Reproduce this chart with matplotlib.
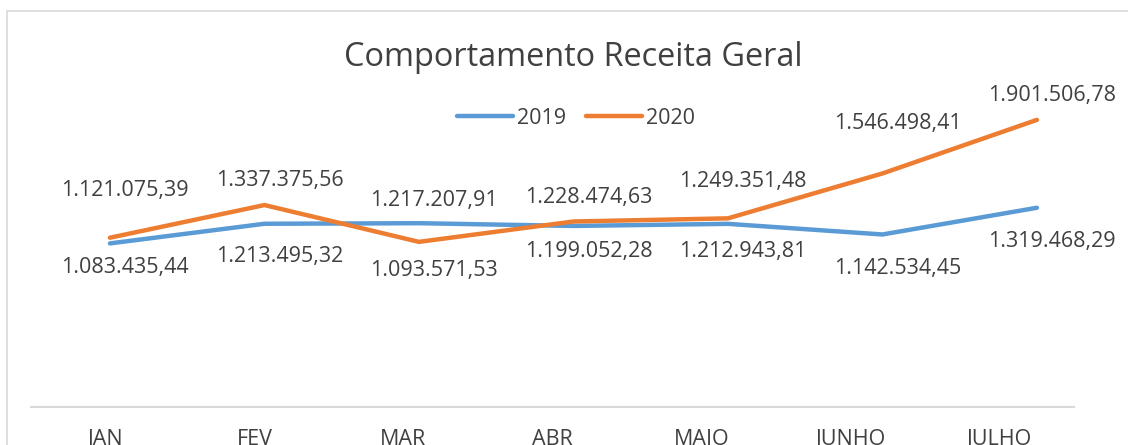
import matplotlib
matplotlib.use("Agg")
import matplotlib.pyplot as plt
from matplotlib.patches import Rectangle

# DATA
meses = ["JAN", "FEV", "MAR", "ABR", "MAIO", "JUNHO", "JULHO"]
receita_2019 = [1083435.44, 1213495.32, 1217207.91, 1199052.28, 1212943.81, 1142534.45, 1319468.29]
receita_2020 = [1121075.39, 1337375.56, 1093571.53, 1228474.63, 1249351.48, 1546498.41, 1901506.78]

# label offsets (pixels, up is positive) - labels were hand placed in the original
dy_2019 = [-24, -33, 23, -26, -28, -34, -34]
dy_2020 = [47, 25, -29, 24, 37, 50, 24]

azul = "#5B9BD5"
laranja = "#ED7D31"
texto = "#404040"
fonte = "Open Sans"
tam = 15.5

W, H = 1128, 445
fig = plt.figure(figsize=(W / 100, H / 100), dpi=100)

# chart border (cut off at right/bottom like the screenshot)
fig.patches.append(Rectangle((7 / W, -0.2), 1.2, 1.2 - 11 / H,
                             transform=fig.transFigure, fill=False,
                             edgecolor="#D9D9D9", lw=1.2, clip_on=False))

ax = fig.add_axes([31 / W, (H - 407) / H, (1074 - 31) / W, (407 - 105) / H])
ax.set_xlim(-0.5, 6.5)
ax.set_ylim(0, 2000000)
ax.set_xticks(range(len(meses)))
ax.set_xticklabels(meses, fontsize=tam, color=texto, family=fonte)
ax.tick_params(axis="x", length=0, pad=16)
ax.set_yticks([])
for s in ["top", "left", "right"]:
    ax.spines[s].set_visible(False)
ax.spines["bottom"].set_color("#D9D9D9")
ax.spines["bottom"].set_linewidth(1.5)
ax.patch.set_alpha(0)

# lines on their own x scale
ax2 = ax.twiny()
ax2.set_xlim(-0.511, 6.24)
ax2.set_xticks([])
for s in ax2.spines.values():
    s.set_visible(False)

x = range(len(meses))
ax2.plot(x, receita_2019, color=azul, lw=3.2, solid_capstyle="round", label="2019")
ax2.plot(x, receita_2020, color=laranja, lw=3.2, solid_capstyle="round", label="2020")

def fmt(v):
    s = f"{v:,.2f}"
    return s.replace(",", "X").replace(".", ",").replace("X", ".")

for i in x:
    ax2.annotate(fmt(receita_2019[i]), (i, receita_2019[i]), xytext=(15, dy_2019[i]),
                 textcoords="offset pixels", ha="center", va="center",
                 fontsize=tam, color=texto, family=fonte, annotation_clip=False)
    ax2.annotate(fmt(receita_2020[i]), (i, receita_2020[i]), xytext=(15, dy_2020[i]),
                 textcoords="offset pixels", ha="center", va="center",
                 fontsize=tam, color=texto, family=fonte, annotation_clip=False)

fig.text(573 / W, 1 - 57 / H, "Comportamento Receita Geral", ha="center", va="center",
         fontsize=23.4, color=texto, family=fonte)

fig.legend(loc="center", bbox_to_anchor=(576 / W, 1 - 118 / H), ncol=2, frameon=False,
           prop={"family": fonte, "size": tam}, labelcolor=texto,
           handlelength=2.6, handletextpad=0.2, columnspacing=0.9)

fig.savefig("out.png", dpi=100)
